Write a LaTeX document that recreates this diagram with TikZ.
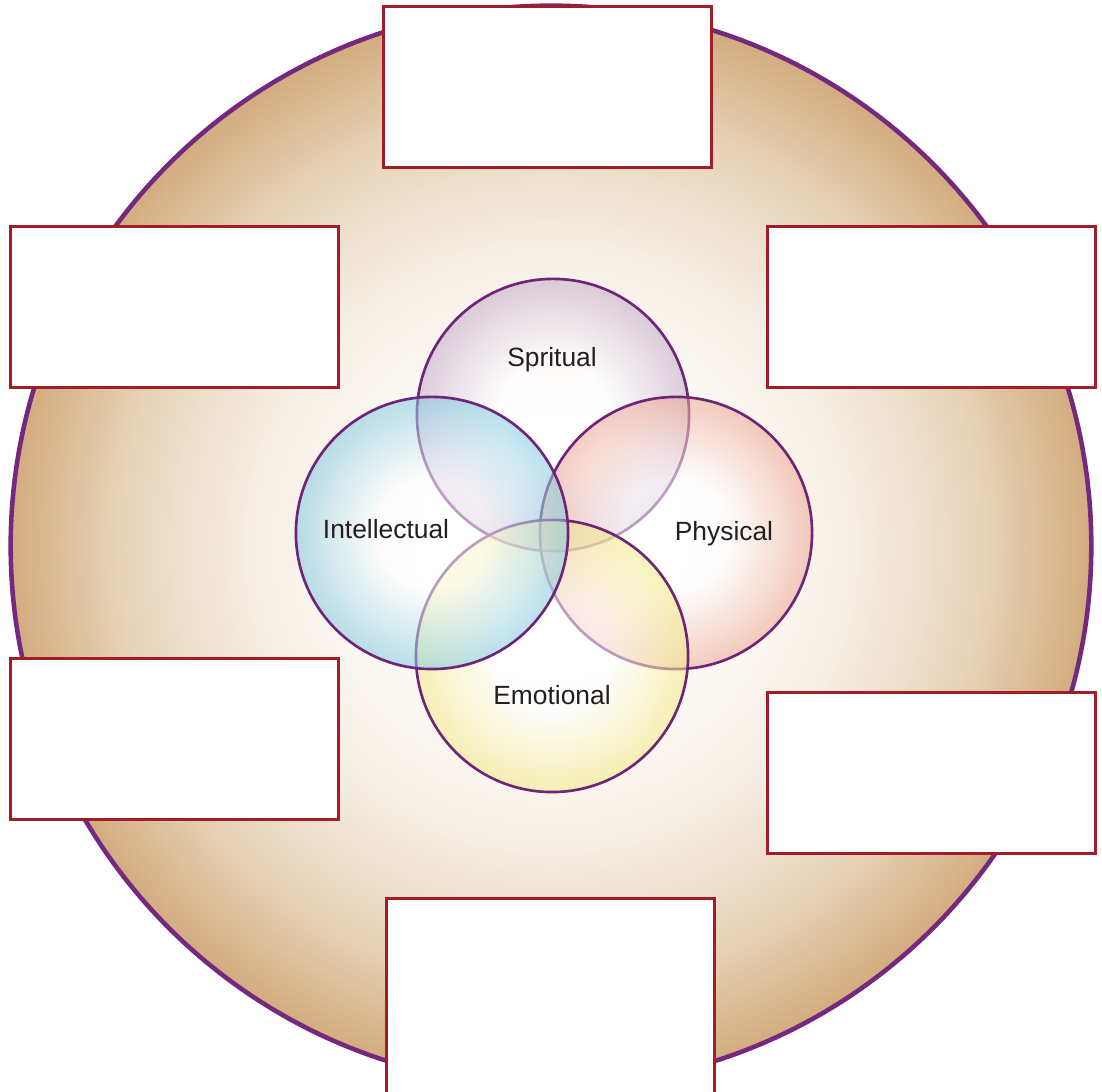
\documentclass[tikz,border=0pt]{standalone}
\usepackage{fontspec}
\setmainfont{Liberation Sans}
\definecolor{ringpurple}{HTML}{74287F}
\definecolor{cpurple}{HTML}{6E2477}
\definecolor{boxred}{HTML}{A21D25}
\definecolor{tanedge}{HTML}{D3AC7F}
\definecolor{tanmid}{HTML}{E8D3B8}
\definecolor{tanlight}{HTML}{F6EEE4}
\definecolor{spiritc}{HTML}{C3A9C8}
\definecolor{intelc}{HTML}{82C8E0}
\definecolor{physc}{HTML}{EDA590}
\definecolor{emotc}{HTML}{F3E980}
\definecolor{txt}{HTML}{231F20}
\pgfdeclareradialshading{bigbg}{\pgfpoint{0bp}{0bp}}{color(0bp)=(white); color(6bp)=(white); color(14bp)=(tanlight); color(20bp)=(tanmid); color(25bp)=(tanedge); color(50bp)=(tanedge)}
\pgfdeclareradialshading{spiritsh}{\pgfpoint{0bp}{0bp}}{color(0bp)=(white); color(10bp)=(white); color(20bp)=(spiritc!65!white); color(25bp)=(spiritc); color(50bp)=(spiritc)}
\pgfdeclareradialshading{intelsh}{\pgfpoint{0bp}{0bp}}{color(0bp)=(white); color(10bp)=(white); color(20bp)=(intelc!65!white); color(25bp)=(intelc); color(50bp)=(intelc)}
\pgfdeclareradialshading{physsh}{\pgfpoint{0bp}{0bp}}{color(0bp)=(white); color(10bp)=(white); color(20bp)=(physc!65!white); color(25bp)=(physc); color(50bp)=(physc)}
\pgfdeclareradialshading{emotsh}{\pgfpoint{0bp}{0bp}}{color(0bp)=(white); color(10bp)=(white); color(20bp)=(emotc!65!white); color(25bp)=(emotc); color(50bp)=(emotc)}
\begin{document}
\begin{tikzpicture}[x=0.01cm,y=-0.01cm,
  vcircle/.style={circle, minimum size=2.72cm, inner sep=0pt, draw=cpurple, line width=0.75pt, shade, fill opacity=0.55},
  blankbox/.style={rectangle, draw=boxred, fill=white, line width=0.8pt, minimum width=3.28cm, minimum height=1.61cm, inner sep=0pt, anchor=north west},
  lbl/.style={anchor=base, text=txt, font=\fontsize{7.5}{9}\selectfont, inner sep=0pt}]
\useasboundingbox (0,0) rectangle (1102,1092);
\node[circle, minimum size=10.8cm, inner sep=0pt, shade, shading=bigbg, draw=ringpurple, line width=1.3pt] (ring) at (551,546) {};
\node[vcircle, shading=spiritsh] (spiritual) at (553,415) {};
\node[vcircle, shading=physsh] (physical) at (676,533) {};
\node[vcircle, shading=emotsh] (emotional) at (552,656) {};
\node[vcircle, shading=intelsh] (intellectual) at (432,533) {};
\node[lbl] (lspirit) at (552,367) {Spritual};
\node[lbl] (lintel) at (386,539) {Intellectual};
\node[lbl] (lphys) at (724,541) {Physical};
\node[lbl] (lemot) at (552,705) {Emotional};
\node[blankbox] (btop) at (382,5) {};
\node[blankbox] (bul) at (9,225) {};
\node[blankbox] (bur) at (766,225) {};
\node[blankbox] (bll) at (9,657) {};
\node[blankbox] (blr) at (766,691) {};
\node[blankbox, minimum height=2.2cm] (bbot) at (385,897) {};
\end{tikzpicture}
\end{document}
